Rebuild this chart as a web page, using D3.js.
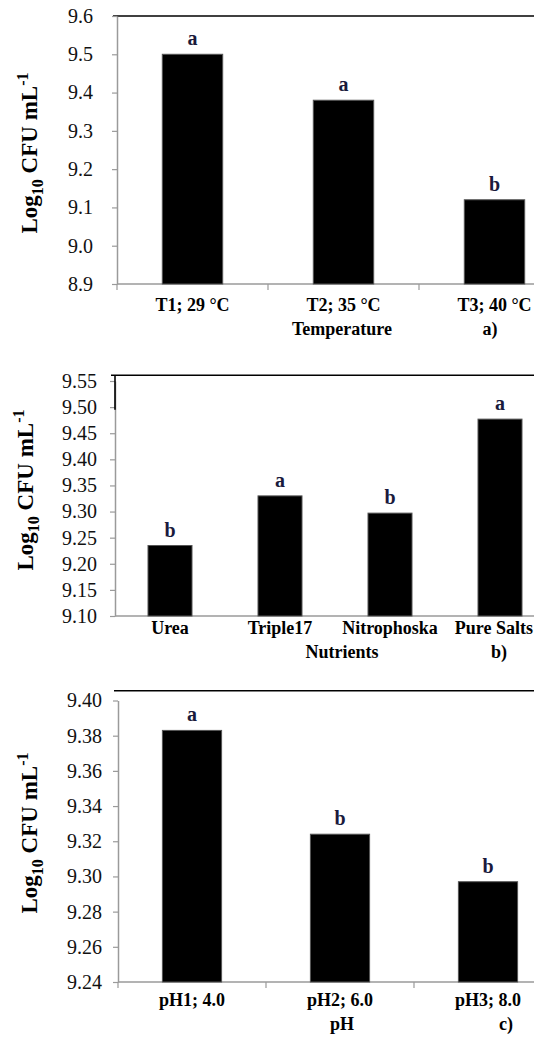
<!DOCTYPE html>
<html>
<head>
<meta charset="utf-8">
<script src="https://cdn.jsdelivr.net/npm/d3@7"></script>
<style>
  body { margin: 0; background: #fff; }
  svg { display: block; }
  svg text { font-family: "Liberation Serif", "DejaVu Serif", serif; }
</style>
</head>
<body>
<script>
// panel a) temperature
const tempCats = ['T1; 29 °C', 'T2; 35 °C', 'T3; 40 °C'];
const tempVals = [9.50, 9.38, 9.12];
const tempLetters = ['a', 'a', 'b'];
const tempTicks = [8.9, 9.0, 9.1, 9.2, 9.3, 9.4, 9.5, 9.6];

// panel b) nutrients
const nutCats = ['Urea', 'Triple17', 'Nitrophoska', 'Pure Salts'];
const nutVals = [9.235, 9.330, 9.297, 9.477];
const nutLetters = ['b', 'a', 'b', 'a'];
const nutTicks = [9.10, 9.15, 9.20, 9.25, 9.30, 9.35, 9.40, 9.45, 9.50, 9.55];

// panel c) pH
const phCats = ['pH1; 4.0', 'pH2; 6.0', 'pH3; 8.0'];
const phVals = [9.383, 9.324, 9.297];
const phLetters = ['a', 'b', 'b'];
const phTicks = [9.24, 9.26, 9.28, 9.30, 9.32, 9.34, 9.36, 9.38, 9.40];

const W = 534, H = 1038;
const serif = 'Liberation Serif';
const grey = '#9a9a9a';

const svg = d3.select('body').append('svg').attr('width', W).attr('height', H)
  .attr('font-family', serif);

function panel(o) {
  const g = svg.append('g');
  const x = d3.scaleBand().domain(o.cats).range(o.xr).padding(0);
  const y = d3.scaleLinear().domain(d3.extent(o.ticks)).range(o.yr);
  const bw = x.bandwidth() * 0.4;
  const base = y(o.ticks[0]);
  const x0 = o.xr[0];

  // top frame line
  g.append('line').attr('x1', x0 - 4).attr('x2', W).attr('y1', y(o.top)).attr('y2', y(o.top))
    .attr('stroke', '#000').attr('stroke-width', 1.6);

  // y axis
  const yAxis = d3.axisLeft(y).tickValues(o.ticks).tickFormat(d3.format(o.fmt))
    .tickSize(5).tickSizeOuter(0).tickPadding(o.pad);
  const ya = g.append('g').attr('transform', 'translate(' + x0 + ',0)').call(yAxis)
    .attr('font-family', serif).attr('font-size', 20);
  ya.select('.domain').attr('stroke', grey).attr('stroke-width', 1.5);
  ya.selectAll('.tick line').attr('stroke', grey).attr('stroke-width', 1.2);
  ya.selectAll('.tick text').attr('fill', '#111');

  if (o.corner) {
    g.append('line').attr('x1', x0).attr('x2', x0).attr('y1', y(o.top)).attr('y2', y(o.corner))
      .attr('stroke', '#000').attr('stroke-width', 1.6);
  }

  // x axis line + boundary ticks
  g.append('line').attr('x1', x0).attr('x2', o.xr[1]).attr('y1', base).attr('y2', base)
    .attr('stroke', grey).attr('stroke-width', 1.5);
  if (o.xticks) {
    g.selectAll('.xt').data(o.cats).enter().append('line')
      .attr('x1', d => x(d)).attr('x2', d => x(d))
      .attr('y1', base).attr('y2', base + 6)
      .attr('stroke', grey).attr('stroke-width', 1.2);
  }

  // bars
  g.selectAll('rect').data(o.vals).enter().append('rect')
    .attr('x', (d, i) => x(o.cats[i]) + (x.bandwidth() - bw) / 2)
    .attr('y', d => y(d))
    .attr('width', bw)
    .attr('height', d => base - y(d))
    .attr('fill', '#000').attr('stroke', '#555').attr('stroke-width', 1);

  // significance letters
  g.selectAll('.let').data(o.vals).enter().append('text')
    .attr('x', (d, i) => x(o.cats[i]) + x.bandwidth() / 2)
    .attr('y', d => y(d) - 9)
    .attr('text-anchor', 'middle')
    .attr('fill', '#1a1a3c')
    .attr('font-size', 20).attr('font-weight', 'bold')
    .text((d, i) => o.letters[i]);

  // category labels, kept inside the right edge
  g.selectAll('.cl').data(o.cats).enter().append('text')
    .attr('y', base + o.labDy)
    .attr('text-anchor', 'middle')
    .attr('font-size', 18).attr('font-weight', 'bold')
    .text(d => d)
    .attr('x', function (d) {
      const half = this.getComputedTextLength() / 2;
      return Math.min(x(d) + x.bandwidth() / 2, W - 1 - half);
    });

  // x title and panel tag
  g.append('text').attr('x', 342).attr('y', base + o.labDy + 24)
    .attr('text-anchor', 'middle').attr('font-size', 18).attr('font-weight', 'bold')
    .text(o.xTitle);
  g.append('text').attr('x', o.tagX).attr('y', base + o.labDy + 24)
    .attr('text-anchor', 'middle').attr('font-size', 18).attr('font-weight', 'bold')
    .text(o.tag);

  // y title
  const t = g.append('text')
    .attr('transform', 'translate(' + o.yt[0] + ',' + o.yt[1] + ') rotate(-90)')
    .attr('text-anchor', 'middle')
    .attr('font-size', 23).attr('font-weight', 'bold');
  t.append('tspan').text('Log');
  t.append('tspan').attr('dy', 6).attr('font-size', 16).text('10');
  t.append('tspan').attr('dy', -6).text(' CFU mL');
  t.append('tspan').attr('dy', -9).attr('font-size', 16).text('-1');
}

panel({
  cats: tempCats, vals: tempVals, letters: tempLetters, ticks: tempTicks,
  xr: [117, 570], yr: [284, 16], top: 9.6, fmt: '.1f', pad: 19, xticks: true,
  labDy: 27, xTitle: 'Temperature', tag: 'a)', tagX: 490, yt: [37, 153]
});

panel({
  cats: nutCats, vals: nutVals, letters: nutLetters, ticks: nutTicks,
  xr: [115, 555], yr: [616, 381], top: 9.561, corner: 9.495, fmt: '.2f', pad: 13, xticks: false,
  labDy: 18, xTitle: 'Nutrients', tag: 'b)', tagX: 499, yt: [33, 490]
});

panel({
  cats: phCats, vals: phVals, letters: phLetters, ticks: phTicks,
  xr: [118, 562], yr: [982, 700.5], top: 9.4055, fmt: '.2f', pad: 11, xticks: true,
  labDy: 24, xTitle: 'pH', tag: 'c)', tagX: 506, yt: [37, 833]
});
</script>
</body>
</html>
